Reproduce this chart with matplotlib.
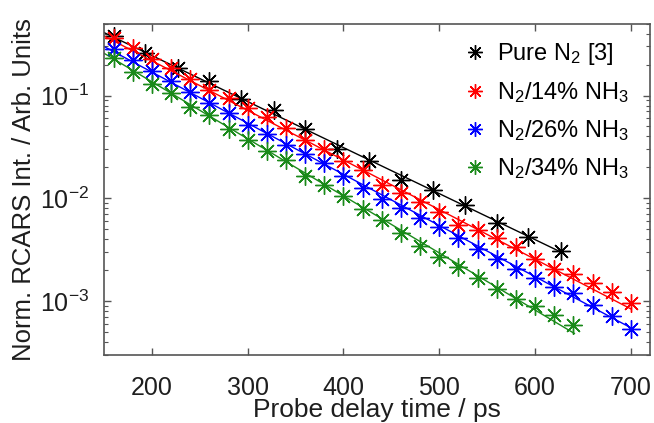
import numpy as np
import matplotlib
matplotlib.use("Agg")
import matplotlib.pyplot as plt
from matplotlib.ticker import FixedLocator, LogLocator, NullFormatter, FuncFormatter

plt.rcParams["font.family"] = ["Liberation Sans", "DejaVu Sans"]
plt.rcParams["mathtext.fontset"] = "custom"
plt.rcParams["mathtext.rm"] = "Liberation Sans"
plt.rcParams["mathtext.it"] = "Liberation Sans"

# data
x_pure = [160, 193, 227, 260, 293, 327, 360, 393, 427, 460, 493, 527, 560, 593, 627]
y_pure = [0.380, 0.260, 0.186, 0.139, 0.0929, 0.0726, 0.0470, 0.0304, 0.0232, 0.0152,
          0.0120, 0.00869, 0.00574, 0.00422, 0.00310]

x_mix = [160, 180, 200, 220, 240, 260, 280, 300, 320, 340, 360, 380, 400, 420,
         440, 460, 480, 500, 520, 540, 560, 580, 600, 620, 640, 660, 680, 700]
y_14 = [0.360, 0.292, 0.225, 0.184, 0.144, 0.1136, 0.095, 0.0755, 0.0621, 0.0486,
        0.0367, 0.0301, 0.0229, 0.0190, 0.0136, 0.01128, 0.00922, 0.00743, 0.00556,
        0.00497, 0.00413, 0.00334, 0.00258, 0.00206, 0.00182, 0.00149, 0.00122, 0.00096]
y_26 = [0.282, 0.222, 0.175, 0.139, 0.109, 0.0844, 0.0679, 0.0520, 0.0425, 0.0332,
        0.0270, 0.0221, 0.0165, 0.0126, 0.00986, 0.00807, 0.00645, 0.00528, 0.00415,
        0.00318, 0.00258, 0.00207, 0.00169, 0.00138, 0.00119, 0.00091, 0.00071, 0.00054]
y_34 = [0.231, 0.171, 0.130, 0.107, 0.0782, 0.0650, 0.0472, 0.0372, 0.0286, 0.0238,
        0.0166, 0.0136, 0.01045, 0.00785, 0.00617, 0.00464, 0.00347, 0.00270, 0.00215,
        0.00169, 0.00132, 0.00105, 0.00089, 0.00074, 0.00059]

# exponential fit lines (start / end points)
fit_pure_x = [150, 627]
fit_pure_y = [0.41, 0.0030]
fit_14_x = [150, 700]
fit_14_y = [0.38, 0.00084]
fit_26_x = [150, 700]
fit_26_y = [0.30, 0.00055]
fit_34_x = [150, 641]
fit_34_y = [0.258, 0.000485]

labels = ["Pure N$_2$ [3]", "N$_2$/14% NH$_3$", "N$_2$/26% NH$_3$", "N$_2$/34% NH$_3$"]
colors = ["black", "#ff0000", "#0000ff", "#1a8a1a"]

series = [
    (x_pure, y_pure, fit_pure_x, fit_pure_y),
    (x_mix, y_14, fit_14_x, fit_14_y),
    (x_mix, y_26, fit_26_x, fit_26_y),
    (x_mix[:len(y_34)], y_34, fit_34_x, fit_34_y),
]

fig = plt.figure(figsize=(6.54, 4.23), dpi=100)
ax = fig.add_axes([0.159, 0.161, 0.835, 0.783])

star = (8, 2, 0)
for (xs, ys, fx, fy), lab, c in zip(series, labels, colors):
    ax.plot(fx, fy, color=c, lw=1.0)
    ax.plot(xs, ys, linestyle="none", marker=star, markersize=13,
            markeredgewidth=1.0, color=c, label=lab)

ax.set_yscale("log")
ax.set_xlim(150, 720)
ax.set_ylim(3e-4, 0.5)

ax.xaxis.set_major_locator(FixedLocator([200, 300, 400, 500, 600, 700]))
ax.yaxis.set_major_locator(LogLocator(base=10, numticks=10))
ax.yaxis.set_minor_locator(LogLocator(base=10, subs=np.arange(2, 10), numticks=20))
ax.yaxis.set_minor_formatter(NullFormatter())
ax.yaxis.set_major_formatter(FuncFormatter(
    lambda v, p: r"10$^{%d}$" % int(round(np.log10(v)))))

txt = "#1e1e1e"
ax.tick_params(which="both", direction="in", top=True, right=True,
               colors="#555555", labelcolor=txt, labelsize=18)
ax.tick_params(which="major", length=5, width=1)
ax.tick_params(which="minor", length=3, width=0.8)
ax.tick_params(axis="x", pad=15)
ax.tick_params(axis="y", pad=11)
for sp in ax.spines.values():
    sp.set_color("#555555")
    sp.set_linewidth(1.2)

ax.set_xlabel("Probe delay time / ps", fontsize=19, color=txt)
ax.set_ylabel("Norm. RCARS Int. / Arb. Units", fontsize=18.5, color=txt)
ax.xaxis.set_label_coords(0.5, -0.13)
ax.yaxis.set_label_coords(-0.125, 0.5)

ax.legend(loc="upper right", bbox_to_anchor=(0.995, 1.0), frameon=False,
          fontsize=17, handlelength=1.0, handletextpad=0.45, markerscale=0.8,
          labelspacing=0.55, borderaxespad=0.35, labelcolor="black")

fig.savefig("out.png", dpi=100)
